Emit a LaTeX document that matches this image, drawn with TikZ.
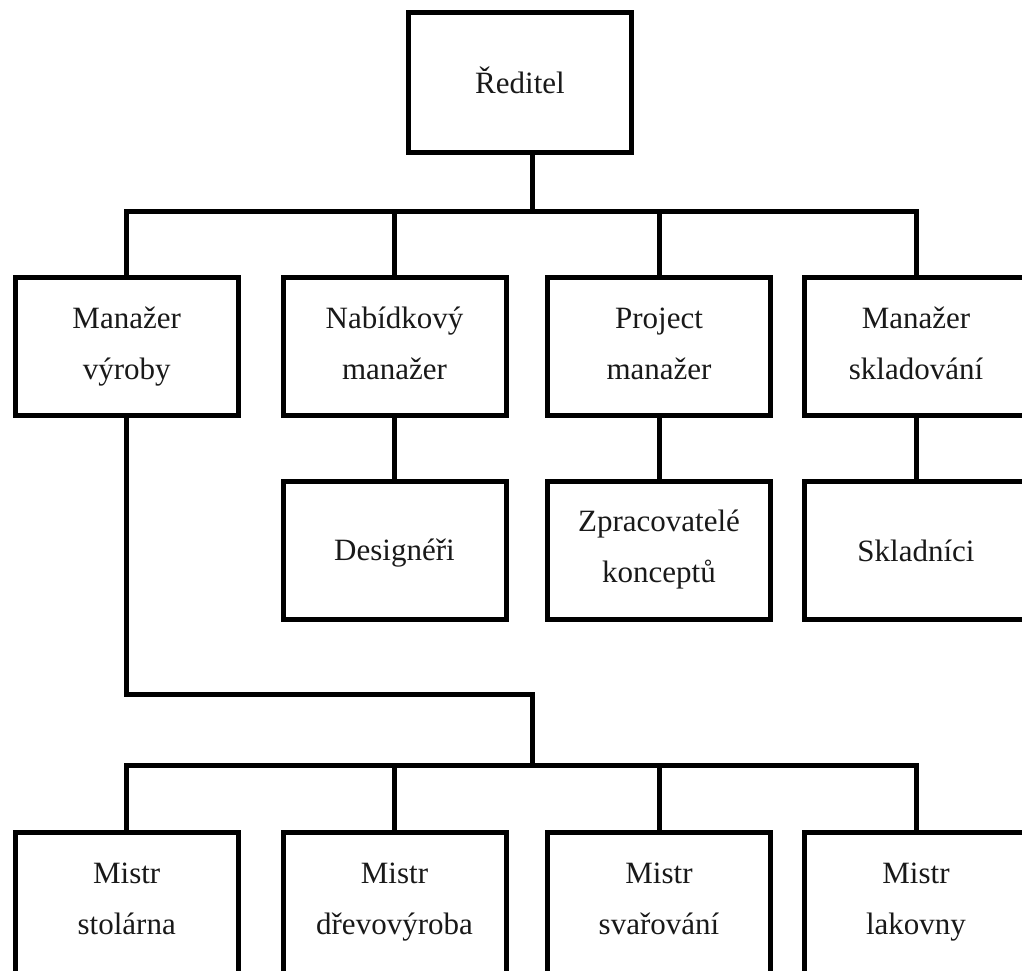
\documentclass[tikz,border=0pt]{standalone}
\usepackage{fontspec}
\setmainfont{Liberation Serif}
\usetikzlibrary{calc}
% struts that fix the baselines of one- and two-line labels
\newcommand\oneline[1]{\rule[-6pt]{0pt}{34pt}#1}
\newcommand\twolines[3][8pt]{\rule{0pt}{22pt}#2\\#3\rule[-#1]{0pt}{#1}}
\begin{document}
\begin{tikzpicture}[x=1pt,y=-1pt,
  orgbox/.style={draw=black, line width=5pt, fill=white, inner sep=0pt,
    minimum width=223pt, minimum height=138pt, align=center,
    font=\fontsize{31}{51}\selectfont, text=black!90},
  lowbox/.style={orgbox, minimum height=146pt},
  conn/.style={draw=black, line width=5pt, line join=miter}]
  \useasboundingbox (0,0) rectangle (1022,970);
  \clip (0,0) rectangle (1022,970);
  \fill[white] (0,0) rectangle (1022,970);

  % director
  \node[orgbox, minimum height=140pt] (dir) at (520,82.5) {\oneline{Ředitel}};

  % managers
  \node[orgbox] (m1) at (126.7,346.5) {\twolines{Manažer}{výroby}};
  \node[orgbox] (m2) at (394.5,346.5) {\twolines{Nabídkový}{manažer}};
  \node[orgbox] (m3) at (659,346.5) {\twolines{Project}{manažer}};
  \node[orgbox] (m4) at (916,346.5) {\twolines{Manažer}{skladování}};

  % staff under managers
  \node[orgbox] (d2) at (394.5,550) {\oneline{Designéři}};
  \node[orgbox] (d3) at (659,550) {\twolines{Zpracovatelé}{konceptů}};
  \node[orgbox] (d4) at (916,550) {\oneline{Skladníci}};

  % foremen (boxes run past the lower edge)
  \node[lowbox] (s1) at (126.7,905.5) {\twolines[16pt]{Mistr}{stolárna}};
  \node[lowbox] (s2) at (394.5,905.5) {\twolines[16pt]{Mistr}{dřevovýroba}};
  \node[lowbox] (s3) at (659,905.5) {\twolines[16pt]{Mistr}{svařování}};
  \node[lowbox] (s4) at (916,905.5) {\twolines[16pt]{Mistr}{lakovny}};

  % director to managers
  \coordinate (hub1) at (532,211);
  \draw[conn] ($(dir.south)+(12,0)$) -- (hub1);
  \draw[conn] (m1.north) |- (hub1) -| (m4.north);
  \draw[conn] (m2.north) -- (m2.north |- hub1);
  \draw[conn] (m3.north) -- (m3.north |- hub1);

  % managers to their staff
  \draw[conn] (m2.south) -- (d2.north);
  \draw[conn] (m3.south) -- (d3.north);
  \draw[conn] (m4.south) -- (d4.north);

  % production manager to foremen
  \coordinate (hub2) at (532,765);
  \coordinate (bend) at (532,694);
  \draw[conn] (m1.south) |- (bend) -- (hub2);
  \draw[conn] (s1.north) |- (hub2) -| (s4.north);
  \draw[conn] (s2.north) -- (s2.north |- hub2);
  \draw[conn] (s3.north) -- (s3.north |- hub2);
\end{tikzpicture}
\end{document}
